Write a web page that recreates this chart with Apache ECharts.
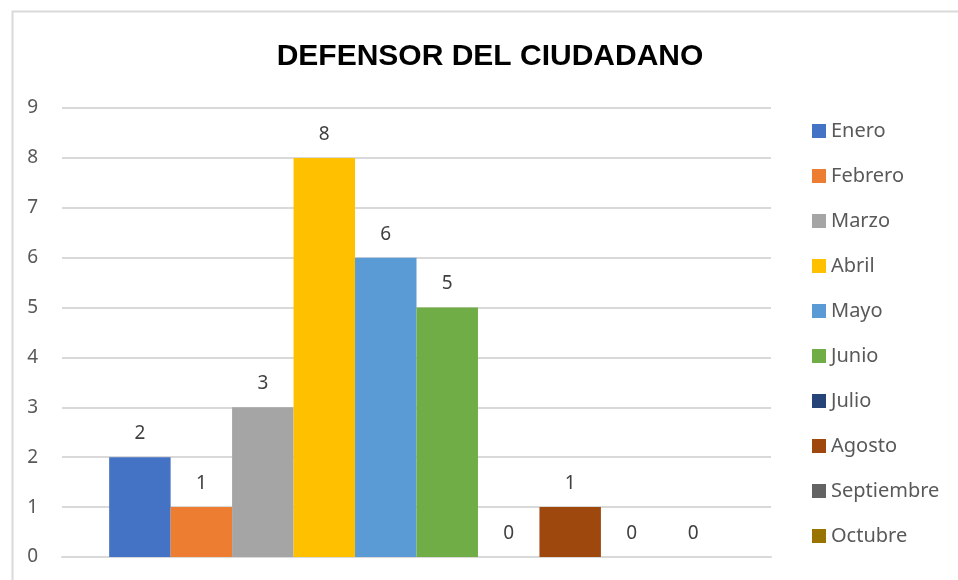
<!DOCTYPE html>
<html>
<head>
<meta charset="utf-8">
<script src="https://cdn.jsdelivr.net/npm/echarts@6/dist/echarts.min.js"></script>
<style>
html,body{margin:0;padding:0;background:#fff;}
#c{width:958px;height:580px;}
</style>
</head>
<body>
<div id="c"></div>
<script>
const titleText = 'DEFENSOR DEL CIUDADANO';
const category = ['Defensor del Ciudadano'];
const months = ['Enero','Febrero','Marzo','Abril','Mayo','Junio','Julio','Agosto','Septiembre','Octubre'];
const values = [2,1,3,8,6,5,0,1,0,0];
const colors = ['#4472c4','#ed7d31','#a5a5a5','#ffc000','#5b9bd5','#70ad47','#264478','#9e480e','#636363','#997300'];
const yTicks = [0,1,2,3,4,5,6,7,8,9];

const chart = echarts.init(document.getElementById('c'));
const labelFont = 'Noto Sans';
chart.setOption({
  animation: false,
  backgroundColor: '#fff',
  color: colors,
  title: {
    text: titleText,
    left: 490,
    textAlign: 'center',
    top: 42,
    padding: 0,
    textStyle: {fontFamily: 'Liberation Sans', fontWeight: 'bold', fontSize: 30, color: '#000'}
  },
  graphic: [{
    type: 'rect', left: 10, top: 9, shape: {x: 0, y: 0, width: 1200, height: 900},
    style: {fill: 'none', stroke: '#d9d9d9', lineWidth: 2}, silent: true, z: -10
  }],
  legend: {
    orient: 'vertical',
    left: 812,
    top: 121,
    padding: 0,
    itemWidth: 14,
    itemHeight: 14,
    itemGap: 25,
    icon: 'rect',
    data: months,
    textStyle: {fontFamily: labelFont, fontSize: 20, color: '#595959'}
  },
  grid: {left: 62, right: 187, top: 108, bottom: 23, containLabel: false},
  xAxis: {
    type: 'category',
    data: category,
    axisLine: {show: true, lineStyle: {color: '#d9d9d9', width: 2}},
    axisTick: {show: false},
    axisLabel: {show: false}
  },
  yAxis: {
    type: 'value',
    min: yTicks[0],
    max: yTicks[yTicks.length - 1],
    interval: 1,
    axisLine: {show: false},
    axisTick: {show: false},
    splitLine: {lineStyle: {color: '#d9d9d9', width: 2}},
    axisLabel: {fontFamily: labelFont, fontSize: 19, color: '#595959', margin: 24}
  },
  series: months.map((m, i) => ({
    name: m,
    type: 'bar',
    data: [values[i]],
    barGap: '0%',
    barCategoryGap: '13.3%',
    itemStyle: {color: colors[i]},
    label: {show: true, position: 'top', distance: 14, fontFamily: labelFont, fontSize: 19, color: '#404040'}
  }))
});
</script>
</body>
</html>
